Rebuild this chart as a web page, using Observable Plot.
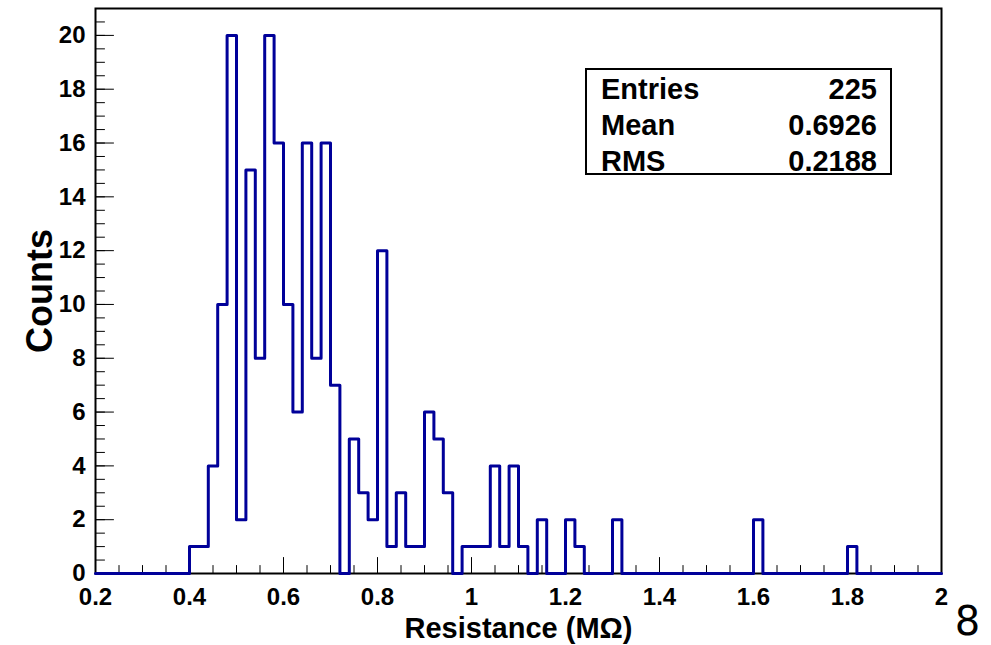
<!DOCTYPE html>
<html>
<head>
<meta charset="utf-8">
<script src="https://cdn.jsdelivr.net/npm/d3@7"></script>
<script src="https://cdn.jsdelivr.net/npm/@observablehq/plot@0.6"></script>
<style>
  body { margin: 0; background: #fff; }
  #wrap { position: relative; width: 991px; height: 645px; }
  .stats {
    position: absolute; left: 585px; top: 68px; width: 303px; height: 103px;
    border: 2px solid #000; background: #fff;
    font: bold 29px "Liberation Sans", Arial, sans-serif; color: #000;
  }
  .stats .row { position: absolute; left: 14px; right: 13px; height: 36px; line-height: 36px; }
  .stats .row span:last-child { position: absolute; right: 0; }
</style>
</head>
<body>
<div id="wrap"></div>
<script>
// Histogram binning: 90 bins of width 0.02 starting at 0.2 MOhm
const binLow = 0.2;
const binWidth = 0.02;

// Counts per bin, in order of increasing resistance
const counts = [
  0, 0, 0, 0, 0, 0, 0, 0, 0, 0,        // 0.20 - 0.38
  1, 1, 4, 10, 20, 2, 15, 8, 20, 16,   // 0.40 - 0.58
  10, 6, 16, 8, 16, 7, 0, 5, 3, 2,     // 0.60 - 0.78
  12, 1, 3, 1, 1, 6, 5, 3, 0, 1,       // 0.80 - 0.98
  1, 1, 4, 1, 4, 1, 0, 2, 0, 0,        // 1.00 - 1.18
  2, 1, 0, 0, 0, 2, 0, 0, 0, 0,        // 1.20 - 1.38
  0, 0, 0, 0, 0, 0, 0, 0, 0, 0,        // 1.40 - 1.58
  2, 0, 0, 0, 0, 0, 0, 0, 0, 0,        // 1.60 - 1.78
  1, 0, 0, 0, 0, 0, 0, 0, 0, 0         // 1.80 - 1.98
];

// Axis ticks and labels
const xTicks = [0.2, 0.4, 0.6, 0.8, 1, 1.2, 1.4, 1.6, 1.8, 2];
const yTicks = [0, 2, 4, 6, 8, 10, 12, 14, 16, 18, 20];
const xTitle = "Resistance (MΩ)";
const yTitle = "Counts";
const cornerMark = "8";

// Statistics box contents
const statLabels = ["Entries", "Mean", "RMS"];
const statValues = ["225", "0.6926", "0.2188"];

// Outline of the histogram as a step line over the bin lower edges
const steps = counts.map((c, i) => ({x: binLow + i * binWidth, y: c}));
steps.push({x: binLow + counts.length * binWidth, y: counts[counts.length - 1]});

// Minor tick positions
const xMinor = d3.range(0, 37).map(i => 0.2 + i * 0.05);
const yMinor = d3.range(0, 43).map(i => i * 0.5);

// Tick drawn as a straight segment pointing into the frame
const tickShape = {draw(ctx, l) { ctx.moveTo(0, 0); ctx.lineTo(0, -l); }};

const chart = Plot.plot({
  width: 991,
  height: 645,
  marginLeft: 95,
  marginRight: 50,
  marginTop: 8,
  marginBottom: 72,
  x: {domain: [0.2, 2.0]},
  y: {domain: [0, 21]},
  style: {
    fontFamily: "'Liberation Sans', Arial, sans-serif",
    fontWeight: "bold",
    background: "white",
    overflow: "visible",
    color: "black"
  },
  marks: [
    Plot.frame({stroke: "black", strokeWidth: 2}),
    Plot.vector(xMinor, {x: d => d, frameAnchor: "bottom", length: 8, anchor: "start", shape: tickShape, stroke: "black", strokeWidth: 1}),
    Plot.vector(xTicks, {x: d => d, frameAnchor: "bottom", length: 16, anchor: "start", shape: tickShape, stroke: "black", strokeWidth: 1}),
    Plot.vector(yMinor, {y: d => d, frameAnchor: "left", rotate: 90, length: 9, anchor: "start", shape: tickShape, stroke: "black", strokeWidth: 1}),
    Plot.vector(yTicks, {y: d => d, frameAnchor: "left", rotate: 90, length: 18, anchor: "start", shape: tickShape, stroke: "black", strokeWidth: 1}),
    Plot.line(steps, {x: "x", y: "y", curve: "step-after", stroke: "#000099", strokeWidth: 3}),
    Plot.axisX(xTicks, {tickSize: 0, tickPadding: 14, tickFormat: d3.format("~g"), fontSize: 24, fontWeight: "bold", label: null}),
    Plot.axisY(yTicks, {tickSize: 0, tickPadding: 10, tickFormat: d3.format("~g"), fontSize: 24, fontWeight: "bold", label: null}),
    Plot.text([xTitle], {frameAnchor: "bottom", dy: 55, fontSize: 29, fontWeight: "bold", textAnchor: "middle", lineAnchor: "middle"}),
    Plot.text([yTitle], {frameAnchor: "left", rotate: -90, dx: -55, fontSize: 36, fontWeight: "bold", textAnchor: "middle", lineAnchor: "middle"}),
    Plot.text([cornerMark], {frameAnchor: "bottom-right", dx: 26, dy: 49, fontSize: 40, fontWeight: "normal", fontFamily: "'DejaVu Sans', sans-serif", textAnchor: "middle", lineAnchor: "middle"})
  ]
});

const wrap = document.getElementById("wrap");
wrap.appendChild(chart);

// Statistics box drawn over the plot area
const box = document.createElement("div");
box.className = "stats";
statLabels.forEach((label, i) => {
  const row = document.createElement("div");
  row.className = "row";
  row.style.top = (1 + i * 36) + "px";
  const a = document.createElement("span");
  a.textContent = label;
  const b = document.createElement("span");
  b.textContent = statValues[i];
  row.appendChild(a);
  row.appendChild(b);
  box.appendChild(row);
});
wrap.appendChild(box);
</script>
</body>
</html>
